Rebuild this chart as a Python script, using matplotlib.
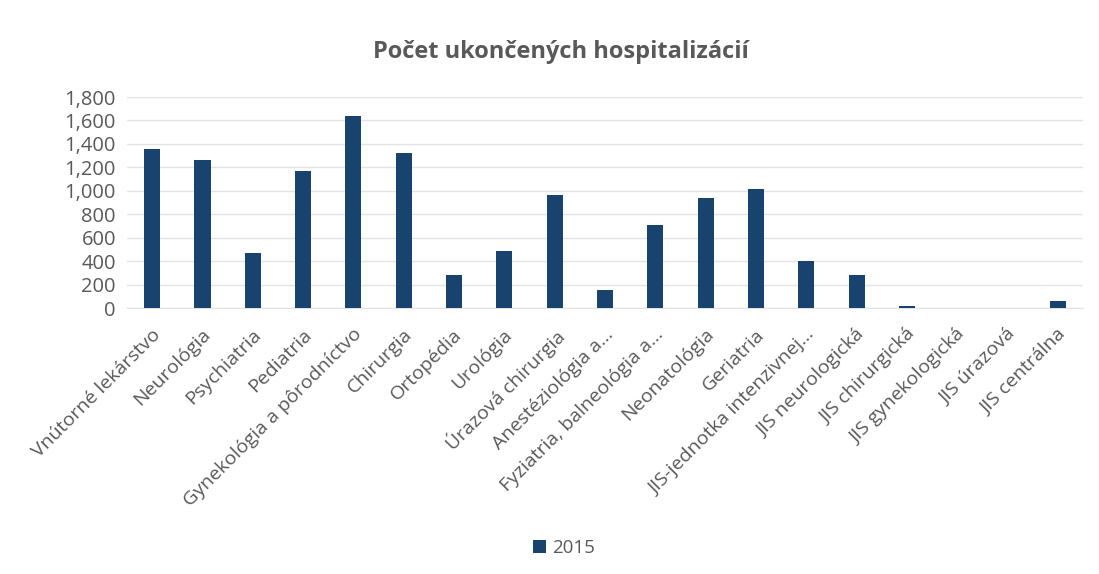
import matplotlib
matplotlib.use("Agg")
import matplotlib.pyplot as plt
import matplotlib.transforms as mtransforms
from matplotlib.ticker import FuncFormatter

categories = [
    "Vnútorné lekárstvo", "Neurológia", "Psychiatria", "Pediatria",
    "Gynekológia a pôrodníctvo", "Chirurgia", "Ortopédia", "Urológia",
    "Úrazová chirurgia", "Anestéziológia a…", "Fyziatria, balneológia a…",
    "Neonatológia", "Geriatria", "JIS-jednotka intenzivnej…",
    "JIS neurologická", "JIS chirurgická", "JIS gynekologická",
    "JIS úrazová", "JIS centrálna",
]
values_2015 = [1360, 1260, 470, 1170, 1640, 1320, 280, 490, 960, 155,
               710, 940, 1015, 400, 280, 15, 0, 0, 60]
series_name = "2015"
title = "Počet ukončených hospitalizácií"
y_ticks = [0, 200, 400, 600, 800, 1000, 1200, 1400, 1600, 1800]

plt.rcParams['font.family'] = ['Open Sans', 'DejaVu Sans']
gray = '#595959'
bar_color = '#17436e'

fig = plt.figure(figsize=(10.99, 5.74), dpi=100)
ax = fig.add_axes([127/1099, 1-308/574, (1083-127)/1099, (308-97)/574])

x = list(range(len(categories)))
ax.bar(x, values_2015, width=0.32, color=bar_color, label=series_name, zorder=3)

ax.set_xlim(-0.5, len(categories) - 0.5)
ax.set_ylim(0, 1800)
ax.set_yticks(y_ticks)
ax.yaxis.set_major_formatter(FuncFormatter(lambda v, p: f"{int(v):,}"))
ax.grid(axis='y', color='#e3e3e3', linewidth=1, zorder=0)
for s in ['top', 'right', 'left']:
    ax.spines[s].set_visible(False)
ax.spines['bottom'].set_color('#e3e3e3')
ax.tick_params(axis='y', length=0, labelsize=14.5, labelcolor=gray, pad=8)
ax.tick_params(axis='x', length=0, labelsize=14, labelcolor=gray, pad=6)
ax.set_xticks(x)
ax.set_xticklabels(categories, rotation=45, ha='right', rotation_mode='anchor')
offset = mtransforms.ScaledTranslation(-1/100, -9/100, fig.dpi_scale_trans)
for lbl in ax.get_xticklabels():
    lbl.set_transform(lbl.get_transform() + offset)

fig.suptitle(title, x=0.51, y=1-52/574, va='center', fontsize=17,
             fontweight='bold', color=gray)

fig.legend(loc='center', bbox_to_anchor=(0.513, 1-548/574), frameon=False,
           fontsize=13.5, labelcolor=gray, handlelength=0.7, handleheight=0.7,
           handletextpad=0.3)

fig.savefig("out.png", dpi=100, facecolor='white')
